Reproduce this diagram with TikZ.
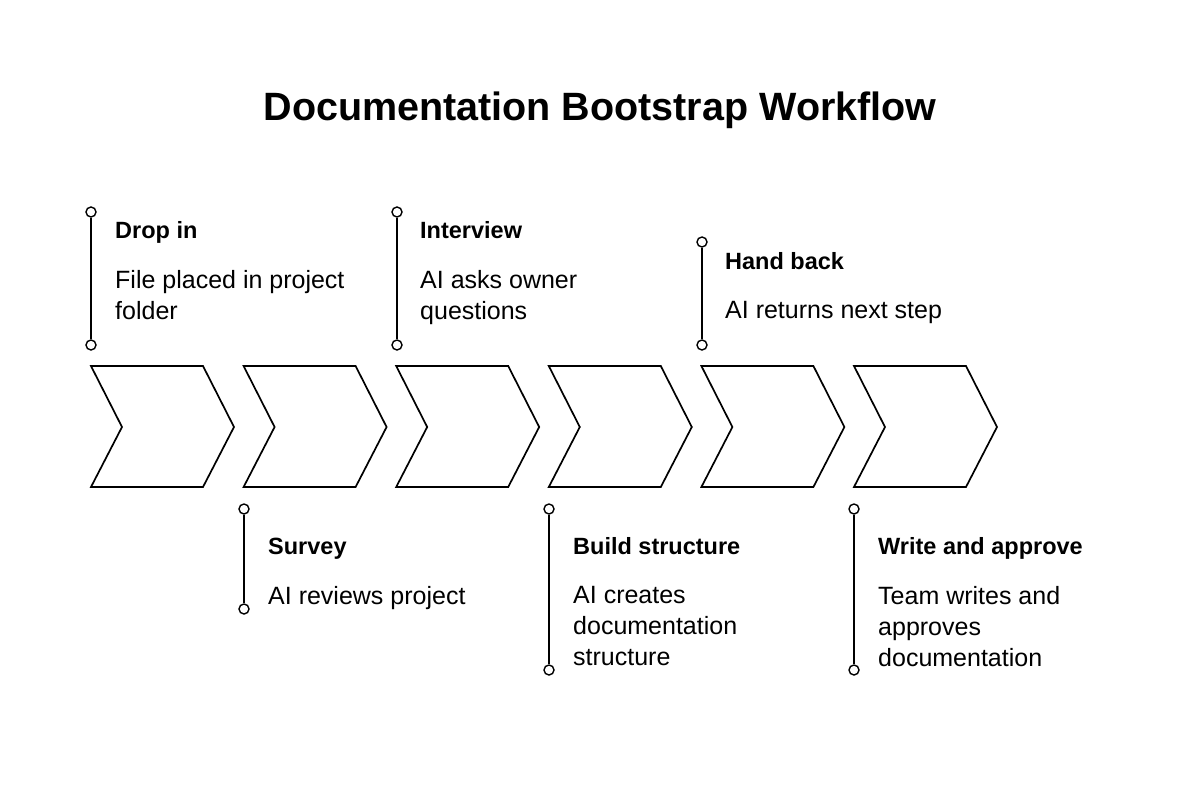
\documentclass[tikz,border=0pt]{standalone}
\usepackage{fontspec}
\setmainfont{Liberation Sans}
\begin{document}
\begin{tikzpicture}[x=1pt,y=-1pt,
  chev/.style={draw=black,line width=1.7pt,line join=miter},
  stem/.style={draw=black,line width=1.7pt},
  dot/.style={circle,draw=black,line width=1.4pt,fill=white,minimum size=10pt,inner sep=0pt},
  ttl/.style={font=\bfseries\fontsize{23.5}{28}\selectfont,anchor=base west,inner sep=0pt},
  bodytext/.style={font=\fontsize{25}{31}\selectfont,anchor=north west,align=left,inner sep=0pt},
  heading/.style={font=\bfseries\fontsize{39.5}{46}\selectfont,anchor=base,inner sep=0pt}]
\useasboundingbox (0,0) rectangle (1200,793);
\fill[white] (0,0) rectangle (1200,793);

\node[heading] (title) at (600,120) {Documentation Bootstrap Workflow};

% chevrons
\foreach \i in {0,...,5}{
  \draw[chev] ({91+152.6*\i},366) coordinate (c\i) -- ++(112,0) -- ++(31,61) -- ++(-31,60) -- ++(-112,0) -- ++(31,-60) -- cycle;
}

% markers top
\node[dot] (m1t) at (91,212) {};
\node[dot] (m1b) at (91,345) {};
\draw[stem] (m1t) -- (m1b);
\node[dot] (m3t) at (397,212) {};
\node[dot] (m3b) at (397,345) {};
\draw[stem] (m3t) -- (m3b);
\node[dot] (m5t) at (702,242) {};
\node[dot] (m5b) at (702,345) {};
\draw[stem] (m5t) -- (m5b);

% markers bottom
\node[dot] (m2t) at (244,509) {};
\node[dot] (m2b) at (244,609) {};
\draw[stem] (m2t) -- (m2b);
\node[dot] (m4t) at (549,509) {};
\node[dot] (m4b) at (549,670) {};
\draw[stem] (m4t) -- (m4b);
\node[dot] (m6t) at (854,509) {};
\node[dot] (m6b) at (854,670) {};
\draw[stem] (m6t) -- (m6b);

% texts (body nodes: top edge = first baseline - 18)
\node[ttl] (t1) at (115,238) {Drop in};
\node[bodytext] (b1) at (115,270) {File placed in project\\folder};
\node[ttl] (t3) at (420,238) {Interview};
\node[bodytext] (b3) at (420,270) {AI asks owner\\questions};
\node[ttl] (t5) at (725,269) {Hand back};
\node[bodytext] (b5) at (725,301) {AI returns next step};

\node[ttl] (t2) at (268,554) {Survey};
\node[bodytext] (b2) at (268,586) {AI reviews project};
\node[ttl] (t4) at (573,554) {Build structure};
\node[bodytext] (b4) at (573,586) {AI creates\\documentation\\structure};
\node[ttl] (t6) at (878,554) {Write and approve};
\node[bodytext] (b6) at (878,586) {Team writes and\\approves\\documentation};
\end{tikzpicture}
\end{document}
